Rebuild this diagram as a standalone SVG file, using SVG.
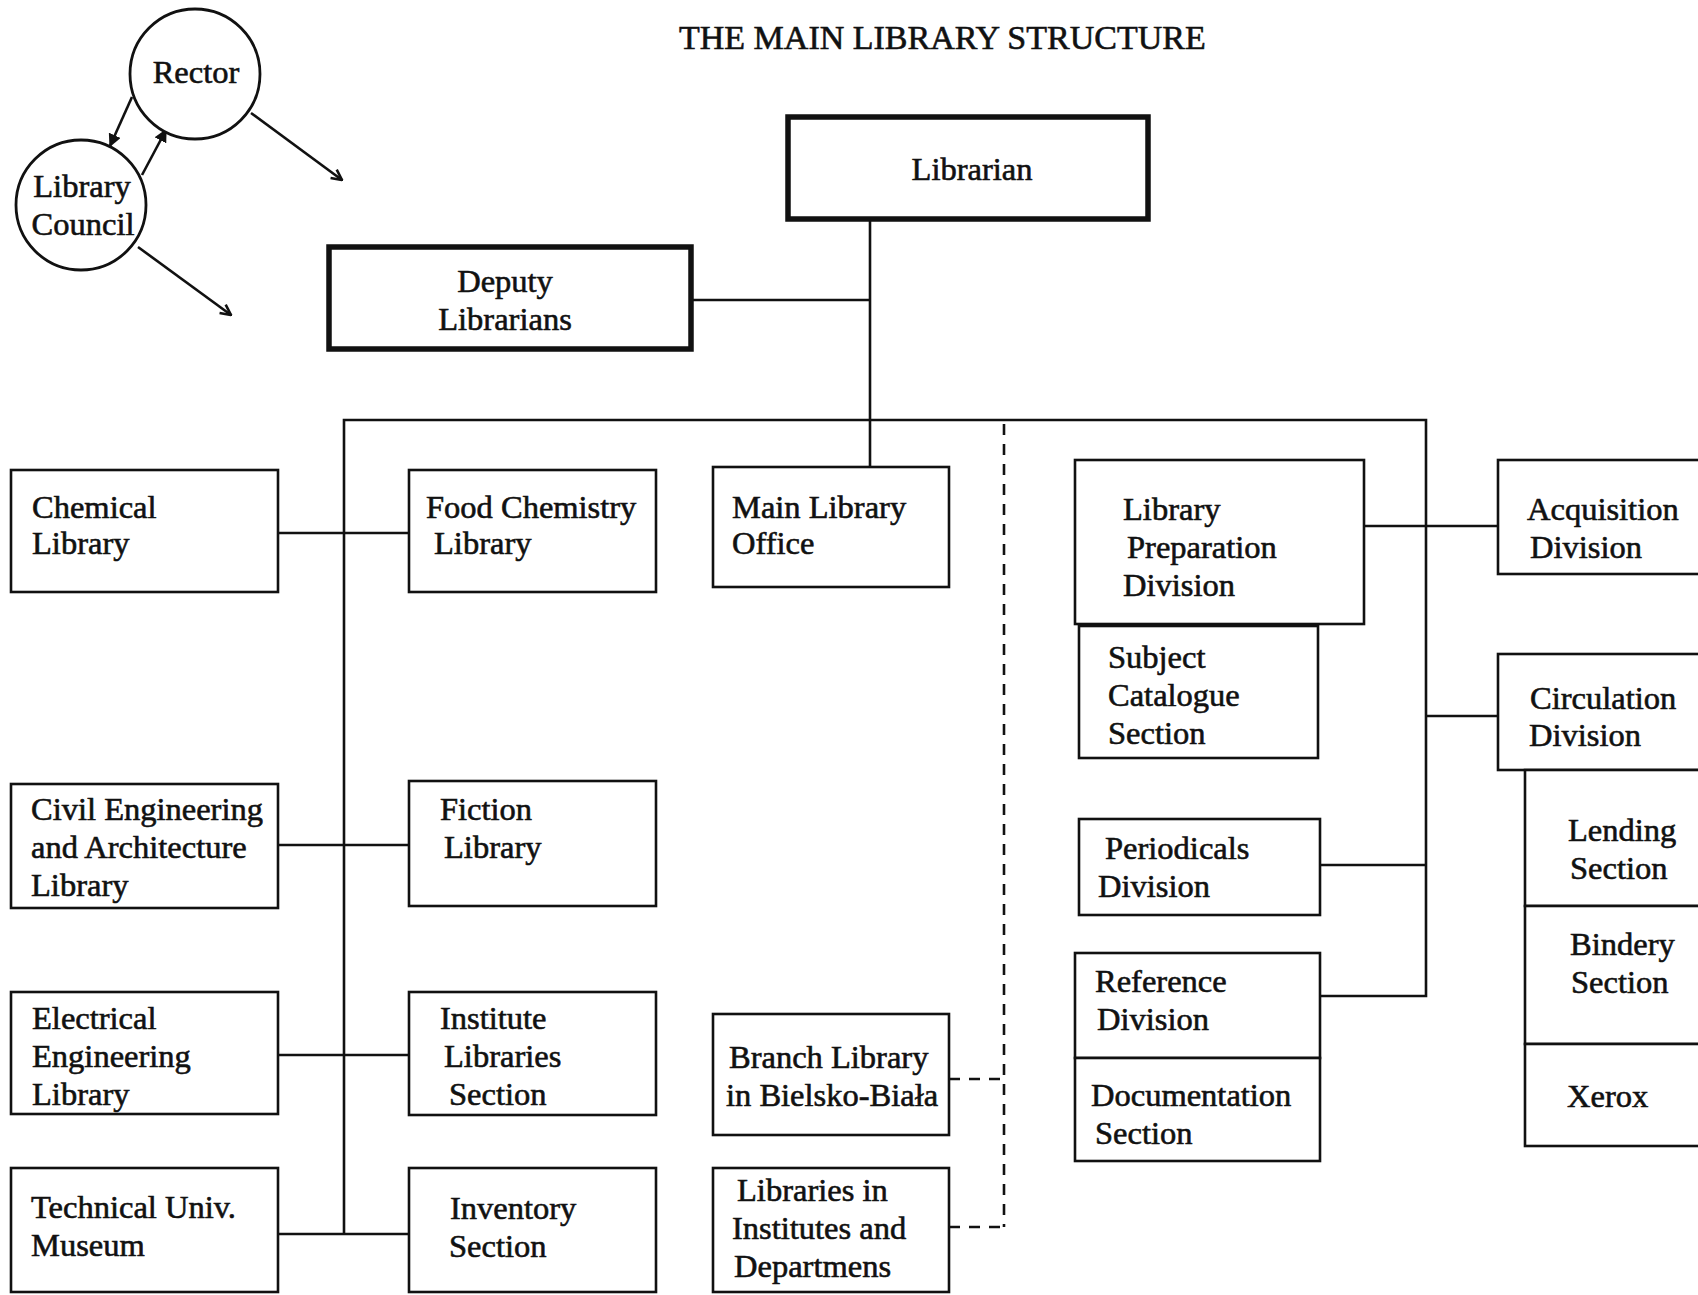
<svg xmlns="http://www.w3.org/2000/svg" width="1698" height="1295" viewBox="0 0 1698 1295">
<style>
text{font-family:"Liberation Serif","Times New Roman",serif;font-size:32.5px;fill:#111;stroke:#111;stroke-width:0.6}
.t{text-anchor:middle}
.box{fill:#fff;stroke:#111;stroke-width:2.6}
.thick{fill:#fff;stroke:#111;stroke-width:5.5}
.ln{fill:none;stroke:#111;stroke-width:2.6}
.dash{fill:none;stroke:#111;stroke-width:2.6;stroke-dasharray:11 9}
.circ{fill:#fff;stroke:#111;stroke-width:2.8}
</style>
<defs>
<marker id="fa" viewBox="0 0 10 10" refX="9" refY="5" markerWidth="5" markerHeight="5" orient="auto" markerUnits="strokeWidth">
<path d="M0,0 L10,5 L0,10 z" fill="#111"/>
</marker>
<marker id="va" viewBox="0 0 10 10" refX="9" refY="5" markerWidth="5" markerHeight="5" orient="auto" markerUnits="strokeWidth">
<path d="M1,1 L9,5 L1,9" fill="none" stroke="#111" stroke-width="2"/>
</marker>
</defs>
<rect width="1698" height="1295" fill="#fff"/>
<text id="title" x="679" y="49" style="font-size:34px">THE MAIN LIBRARY STRUCTURE</text>

<g id="connectors">
<line class="ln" x1="132" y1="97" x2="110" y2="146" marker-end="url(#fa)"/>
<line class="ln" x1="142" y1="175" x2="166" y2="130" marker-end="url(#fa)"/>
<line class="ln" x1="251" y1="113" x2="342" y2="180" marker-end="url(#va)"/>
<line class="ln" x1="138" y1="247" x2="231" y2="315" marker-end="url(#va)"/>
<line class="ln" x1="870" y1="219" x2="870" y2="467"/>
<line class="ln" x1="691" y1="300" x2="870" y2="300"/>
<polyline class="ln" points="344,1234 344,420 1426,420 1426,996 1320,996"/>
<line class="ln" x1="278" y1="533" x2="409" y2="533"/>
<line class="ln" x1="278" y1="845" x2="409" y2="845"/>
<line class="ln" x1="278" y1="1055" x2="409" y2="1055"/>
<line class="ln" x1="278" y1="1234" x2="409" y2="1234"/>
<line class="ln" x1="1364" y1="526" x2="1498" y2="526"/>
<line class="ln" x1="1426" y1="716" x2="1498" y2="716"/>
<line class="ln" x1="1320" y1="865" x2="1426" y2="865"/>
<line class="dash" x1="1004" y1="424" x2="1004" y2="1227"/>
<line class="dash" x1="949" y1="1079" x2="1004" y2="1079"/>
<line class="dash" x1="949" y1="1227" x2="1004" y2="1227"/>
</g>

<g id="rector"><circle class="circ" cx="195" cy="74" r="65"/><text class="t" x="196" y="83">Rector</text></g>
<g id="council"><circle class="circ" cx="81" cy="205" r="65"/><text class="t" x="82" y="197">Library</text><text class="t" x="83" y="235">Council</text></g>

<g id="librarian"><rect class="thick" x="788" y="117" width="360" height="102"/><text class="t" x="972" y="180">Librarian</text></g>
<g id="deputy"><rect class="thick" x="329" y="247" width="362" height="102"/><text class="t" x="505" y="292">Deputy</text><text class="t" x="505" y="330">Librarians</text></g>

<g id="chemical"><rect class="box" x="11" y="470" width="267" height="122"/><text x="32" y="518">Chemical</text><text x="32" y="554">Library</text></g>
<g id="civil"><rect class="box" x="11" y="784" width="267" height="124"/><text x="31" y="820">Civil Engineering</text><text x="31" y="858">and Architecture</text><text x="31" y="896">Library</text></g>
<g id="electrical"><rect class="box" x="11" y="992" width="267" height="122"/><text x="32" y="1029">Electrical</text><text x="32" y="1067">Engineering</text><text x="32" y="1105">Library</text></g>
<g id="museum"><rect class="box" x="11" y="1168" width="267" height="124"/><text x="31" y="1218">Technical Univ.</text><text x="31" y="1256">Museum</text></g>

<g id="food"><rect class="box" x="409" y="470" width="247" height="122"/><text x="426" y="518">Food Chemistry</text><text x="434" y="554">Library</text></g>
<g id="fiction"><rect class="box" x="409" y="781" width="247" height="125"/><text x="440" y="820">Fiction</text><text x="444" y="858">Library</text></g>
<g id="institute"><rect class="box" x="409" y="992" width="247" height="123"/><text x="440" y="1029">Institute</text><text x="444" y="1067">Libraries</text><text x="449" y="1105">Section</text></g>
<g id="inventory"><rect class="box" x="409" y="1168" width="247" height="124"/><text x="450" y="1219">Inventory</text><text x="449" y="1257">Section</text></g>

<g id="office"><rect class="box" x="713" y="467" width="236" height="120"/><text x="732" y="518">Main Library</text><text x="732" y="554">Office</text></g>
<g id="branch"><rect class="box" x="713" y="1014" width="236" height="121"/><text x="729" y="1068">Branch Library</text><text x="726" y="1106">in Bielsko-Biała</text></g>
<g id="institutes"><rect class="box" x="713" y="1168" width="236" height="124"/><text x="737" y="1201">Libraries in</text><text x="732" y="1239">Institutes and</text><text x="734" y="1277">Departmens</text></g>

<g id="preparation"><rect class="box" x="1075" y="460" width="289" height="164"/><text x="1123" y="520">Library</text><text x="1127" y="558">Preparation</text><text x="1123" y="596">Division</text></g>
<g id="subject"><rect class="box" x="1079" y="626" width="239" height="132"/><text x="1108" y="668">Subject</text><text x="1108" y="706">Catalogue</text><text x="1108" y="744">Section</text></g>
<g id="periodicals"><rect class="box" x="1079" y="819" width="241" height="96"/><text x="1105" y="859">Periodicals</text><text x="1098" y="897">Division</text></g>
<g id="reference"><rect class="box" x="1075" y="953" width="245" height="105"/><text x="1095" y="992">Reference</text><text x="1097" y="1030">Division</text></g>
<g id="documentation"><rect class="box" x="1075" y="1058" width="245" height="103"/><text x="1091" y="1106">Documentation</text><text x="1095" y="1144">Section</text></g>

<g id="acquisition"><rect class="box" x="1498" y="460" width="230" height="114"/><text x="1527" y="520">Acquisition</text><text x="1530" y="558">Division</text></g>
<g id="circulation"><rect class="box" x="1498" y="654" width="230" height="116"/><text x="1530" y="709">Circulation</text><text x="1529" y="746">Division</text></g>
<g id="lending"><rect class="box" x="1525" y="770" width="200" height="136"/><text x="1568" y="841">Lending</text><text x="1570" y="879">Section</text></g>
<g id="bindery"><rect class="box" x="1525" y="906" width="200" height="138"/><text x="1570" y="955">Bindery</text><text x="1571" y="993">Section</text></g>
<g id="xerox"><rect class="box" x="1525" y="1044" width="200" height="102"/><text x="1567" y="1107">Xerox</text></g>
</svg>
